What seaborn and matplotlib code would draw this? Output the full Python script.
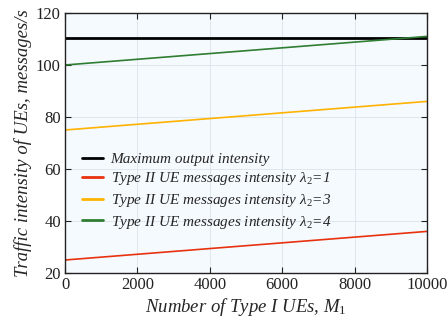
import numpy as np
import pandas as pd
import seaborn as sns
import matplotlib
matplotlib.use("Agg")
import matplotlib.pyplot as plt

# Data
m1 = [0, 10000]
max_output = [110.5, 110.5]
lam1 = [25, 36]
lam3 = [75, 86]
lam4 = [100, 111]

labels = [
    "Maximum output intensity",
    r"Type II UE messages intensity $\lambda_2$=1",
    r"Type II UE messages intensity $\lambda_2$=3",
    r"Type II UE messages intensity $\lambda_2$=4",
]
colors = ["#000000", "#e8320e", "#ffb300", "#2f7d32"]
series = [max_output, lam1, lam3, lam4]

rows = []
for lab, vals in zip(labels, series):
    for x, y in zip(m1, vals):
        rows.append({"M1": x, "y": y, "series": lab})
df = pd.DataFrame(rows)

sns.set_theme(style="ticks")
plt.rcParams["font.family"] = ["Liberation Serif", "DejaVu Serif"]
plt.rcParams["mathtext.fontset"] = "custom"
plt.rcParams["mathtext.rm"] = "Liberation Serif"
plt.rcParams["mathtext.it"] = "Liberation Serif:italic"

fig = plt.figure(figsize=(4.48, 3.24), dpi=100)
ax = fig.add_axes([65/448, 1 - 273/324, (427-65)/448, (273-13)/324])
ax.set_facecolor("#f5faff")

sns.lineplot(data=df, x="M1", y="y", hue="series", palette=colors,
             hue_order=labels, ax=ax, linewidth=1.2)
ax.lines[0].set_linewidth(2.0)

ax.set_xlim(0, 10000)
ax.set_ylim(20, 120)
ax.set_xticks([0, 2000, 4000, 6000, 8000, 10000])
ax.set_yticks([20, 40, 60, 80, 100, 120])
ax.grid(True, color="#dde3ea", linewidth=0.6)
ax.tick_params(direction="in", top=True, right=True, labelsize=12, length=4, width=0.8,
               colors="#222222", pad=3)
for s in ax.spines.values():
    s.set_linewidth(1.0)
    s.set_color("#222222")

ax.set_xlabel(r"Number of Type I UEs, $M_1$", fontsize=13.5, style="italic", labelpad=2)
ax.set_ylabel("Traffic intensity of UEs, messages/s", fontsize=13.5, style="italic", labelpad=3)

handles, labs = ax.get_legend_handles_labels()
leg = ax.legend(handles, labs, loc="lower left", bbox_to_anchor=(0.01, 0.11), frameon=False,
                prop={"size": 11, "style": "italic"}, handlelength=1.35, labelspacing=0.3,
                handletextpad=0.5, borderaxespad=0.5)
for h in leg.legend_handles:
    h.set_linewidth(2.0)

fig.savefig("out.png", dpi=100)
